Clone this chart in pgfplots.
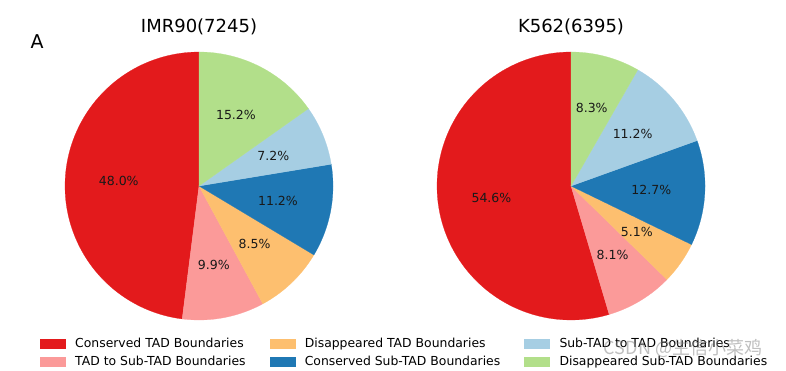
\documentclass[border=0pt]{standalone}
\usepackage{fontspec}
\setmainfont{DejaVu Sans}
\newfontfamily\cjk{Noto Sans CJK SC}
\usepackage{pgfplots}
\usepackage{pgfplotstable}
\pgfplotsset{compat=1.18}

\definecolor{cRed}{HTML}{E31A1C}
\definecolor{cPink}{HTML}{FB9A99}
\definecolor{cOrange}{HTML}{FDBF6F}
\definecolor{cBlue}{HTML}{1F78B4}
\definecolor{cLightBlue}{HTML}{A6CEE3}
\definecolor{cGreen}{HTML}{B2DF8A}

% IMR90 (7245)
\pgfplotstableread[col sep=comma]{
pct,color,name
48.0,cRed,Conserved TAD Boundaries
9.9,cPink,TAD to Sub-TAD Boundaries
8.5,cOrange,Disappeared TAD Boundaries
11.2,cBlue,Conserved Sub-TAD Boundaries
7.2,cLightBlue,Sub-TAD to TAD Boundaries
15.2,cGreen,Disappeared Sub-TAD Boundaries
}\imrdata

% K562 (6395)
\pgfplotstableread[col sep=comma]{
pct,color,name
54.6,cRed,Conserved TAD Boundaries
8.1,cPink,TAD to Sub-TAD Boundaries
5.1,cOrange,Disappeared TAD Boundaries
12.7,cBlue,Conserved Sub-TAD Boundaries
11.2,cLightBlue,Sub-TAD to TAD Boundaries
8.3,cGreen,Disappeared Sub-TAD Boundaries
}\kdata

\newcommand\pctfont{\fontsize{12.5}{15}\selectfont}
\newif\iflegend

\newcommand\drawpie[1]{%
  \gdef\cumpct{0}%
  \pgfplotsforeachungrouped \i in {0,...,5}{%
    \pgfplotstablegetelem{\i}{pct}\of#1\let\curpct\pgfplotsretval
    \pgfplotstablegetelem{\i}{color}\of#1\let\curcol\pgfplotsretval
    \pgfplotstablegetelem{\i}{name}\of#1\let\curname\pgfplotsretval
    \pgfmathsetmacro\aS{90+3.6*\cumpct}%
    \pgfmathsetmacro\cumnew{\cumpct+\curpct}%
    \xdef\cumpct{\cumnew}%
    \pgfmathsetmacro\aE{90+3.6*\cumpct}%
    \pgfmathsetmacro\aM{(\aS+\aE)/2}%
    \pgfmathsetmacro\lx{0.6*cos(\aM)}%
    \pgfmathsetmacro\ly{0.6*sin(\aM)}%
    \edef\doslice{%
      \noexpand\addplot[fill=\curcol, draw=\curcol, line width=0.2pt,
        domain=\aS:\aE, samples=90]
        ({cos(x)},{sin(x)}) -- (axis cs:0,0) -- cycle;
      \iflegend\noexpand\addlegendentry{\curname}\fi
      \noexpand\node[font=\noexpand\pctfont, text=black!90] at (axis cs:\lx,\ly) {\curpct\noexpand\%};
    }%
    \doslice
  }%
}

\pgfplotsset{
  pieaxis/.style={
    scale only axis, width=268pt, height=268pt,
    xmin=-1, xmax=1, ymin=-1, ymax=1,
    hide axis, clip=false, anchor=center,
    every axis title/.style={font=\fontsize{18}{20}\selectfont, at={(0.5,1)}, anchor=center, yshift=25pt},
    legend image code/.code={\fill[##1] (0pt,-4.5pt) rectangle (25pt,4.5pt);},
  }
}

\begin{document}
\begin{tikzpicture}
\useasboundingbox (0,0) rectangle (786pt,370pt);

\begin{axis}[pieaxis, at={(199pt,184pt)}, title={IMR90(7245)},
  legend columns=2, transpose legend,
  legend cell align=left,
  legend style={draw=none, fill=none, at={(-0.0933,-0.056)}, anchor=north west,
    inner sep=0pt, outer sep=0pt, font=\fontsize{12.4}{14}\selectfont,
    column sep=0pt,
    /tikz/every even column/.append style={column sep=14pt},
    nodes={inner xsep=10pt, inner ysep=3pt, text height=9pt, text depth=3pt}},
]
\legendtrue
\drawpie{\imrdata}
\end{axis}

\begin{axis}[pieaxis, at={(571pt,184pt)}, title={K562(6395)}]
\legendfalse
\drawpie{\kdata}
\end{axis}

\node[font=\fontsize{19}{20}\selectfont] at (37pt,328pt) {A};
\node[font=\cjk\fontsize{18}{18}\selectfont, text=gray, opacity=0.5] at (683pt,22pt) {CSDN @生信小菜鸡};
\end{tikzpicture}
\end{document}
